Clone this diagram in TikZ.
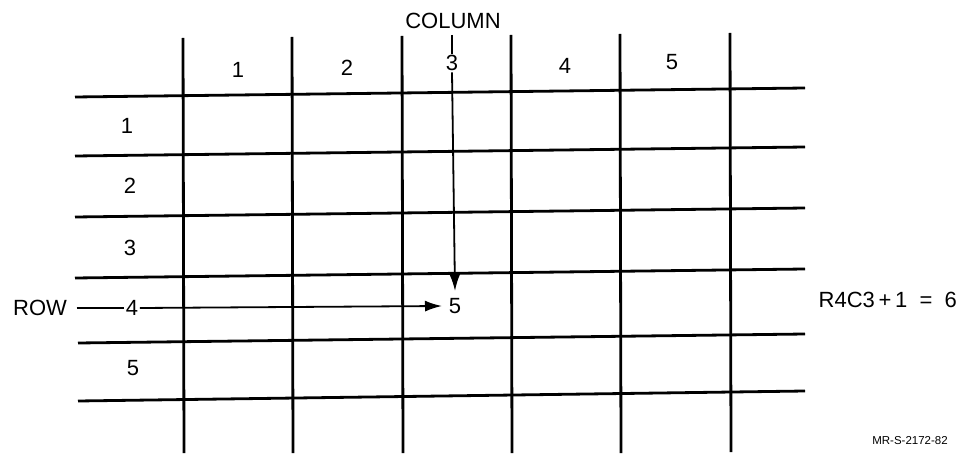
\documentclass[tikz,border=0pt]{standalone}
\usepackage{fontspec}
\setmainfont{Liberation Sans}
\usetikzlibrary{arrows.meta}
\begin{document}
\begin{tikzpicture}[x=1pt,y=-1pt,
  grid/.style={line width=2.8pt},
  lbl/.style={font=\fontsize{22}{26}\selectfont, inner sep=1.5pt},
  ptr/.style={line width=1.8pt},
  tipped/.style={ptr,-{Latex[length=17pt,width=11pt]}}]
\useasboundingbox (0,0) rectangle (974,457);
% horizontal grid lines
\draw[grid] (75,97) -- (805,88);
\draw[grid] (75,156) -- (805,147);
\draw[grid] (75,217) -- (805,208);
\draw[grid] (75,278) -- (805,269);
\draw[grid] (78,343) -- (805,334);
\draw[grid] (78,401) -- (805,391);
% vertical grid lines
\draw[grid] (183,38) -- (184,453);
\draw[grid] (292,37) -- (293,453);
\draw[grid] (402,36) -- (403,453);
\draw[grid] (511,35) -- (512,453);
\draw[grid] (620,34) -- (621,453);
\draw[grid] (730,33) -- (731,452);
% column labels
\node[lbl] (colt) at (453,21) {COLUMN};
\node[lbl] (c1) at (238,70) {1};
\node[lbl] (c2) at (347,68) {2};
\node[lbl] (c3) at (452,63) {3};
\node[lbl] (c4) at (565,66) {4};
\node[lbl] (c5) at (672,62) {5};
% row labels
\node[lbl] (r1) at (127,126) {1};
\node[lbl] (r2) at (130,186) {2};
\node[lbl] (r3) at (130,248) {3};
\node[lbl] (r4) at (132,308) {4};
\node[lbl] (r5) at (133,368) {5};
\node[lbl] (row) at (40,308) {ROW};
% result
\node[lbl] (v) at (455,306) {5};
\coordinate (ctop) at (452,35);
\coordinate (dtip) at (455,291);
\coordinate (rtip) at (442,306);
\draw[ptr] (ctop) -- (c3.north);
\draw[tipped] (c3.south) -- (dtip);
\draw[ptr] (row.east) ++(8,0) coordinate (rs) (rs) -- (r4.west);
\draw[tipped] (r4.east) -- (rtip);
% formula and code
\node[lbl, anchor=west] (f) at (817,300) {R4C3\,+\,1 \ = \ 6};
\node[font=\fontsize{11.5}{14}\selectfont, inner sep=0pt] (mr) at (910,441) {MR-S-2172-82};
\end{tikzpicture}
\end{document}
